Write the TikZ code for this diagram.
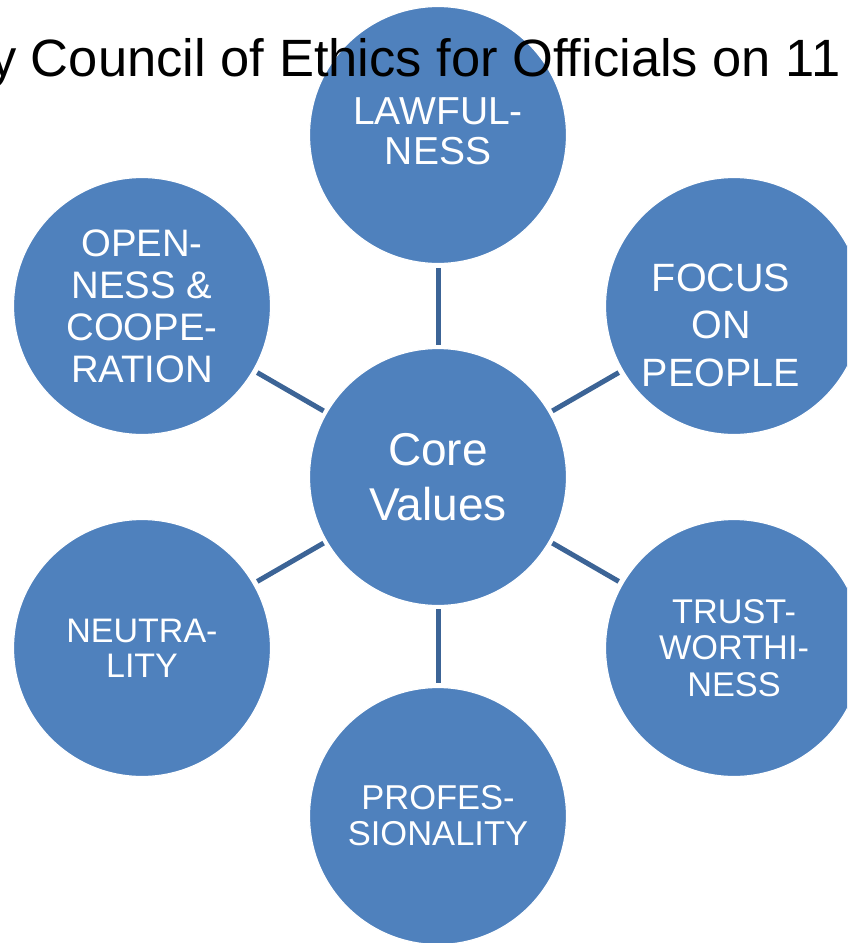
\documentclass[tikz,border=0pt]{standalone}
\usepackage{fontspec}
\setmainfont{Liberation Sans}
\definecolor{cfill}{HTML}{4F81BD}
\definecolor{cline}{HTML}{3C6496}
\begin{document}
\begin{tikzpicture}[x=1pt,y=-1pt,
  val/.style={circle, fill=cfill, draw=white, line width=1.2pt, minimum size=257pt, inner sep=0pt, text=white, align=center},
  valtext/.style={inner sep=0pt, text=white, align=center},
  conn/.style={draw=cline, line width=5pt, shorten <=3pt, shorten >=4pt}]
\useasboundingbox (0,0) rectangle (847,943);
\clip (0,0) rectangle (847,943);
\node[val, font=\fontsize{46}{55}\selectfont] (core) at (438,477) {Core\\Values};
\node[val, font=\fontsize{39}{40}\selectfont] (top) at (438,135) {};
\node[valtext, font=\fontsize{39}{40}\selectfont] (toptext) at (438,131) {LAWFUL-\\NESS};
\node[val] (tr) at (734,306) {};
\node[valtext, font=\fontsize{39.5}{47.5}\selectfont] (trtext) at (721,325) {FOCUS\\ON\\PEOPLE};
\node[val, font=\fontsize{34.3}{36.5}\selectfont] (br) at (734,648) {TRUST-\\WORTHI-\\NESS};
\node[val, font=\fontsize{34.5}{36}\selectfont] (bot) at (438,816) {PROFES-\\SIONALITY};
\node[val, font=\fontsize{34}{35}\selectfont] (bl) at (142,648) {NEUTRA-\\LITY};
\node[val, font=\fontsize{38.3}{42}\selectfont] (tl) at (142,306) {OPEN-\\NESS \&\\COOPE-\\RATION};
\draw[conn] (core) -- (top);
\draw[conn] (core) -- (tr);
\draw[conn] (core) -- (br);
\draw[conn] (core) -- (bot);
\draw[conn] (core) -- (bl);
\draw[conn] (core) -- (tl);
\node[anchor=base west, inner sep=0pt, font=\fontsize{52.5}{60}\selectfont] (title) at (-10,76) {y Council of Ethics for Officials on 11};
\end{tikzpicture}
\end{document}
